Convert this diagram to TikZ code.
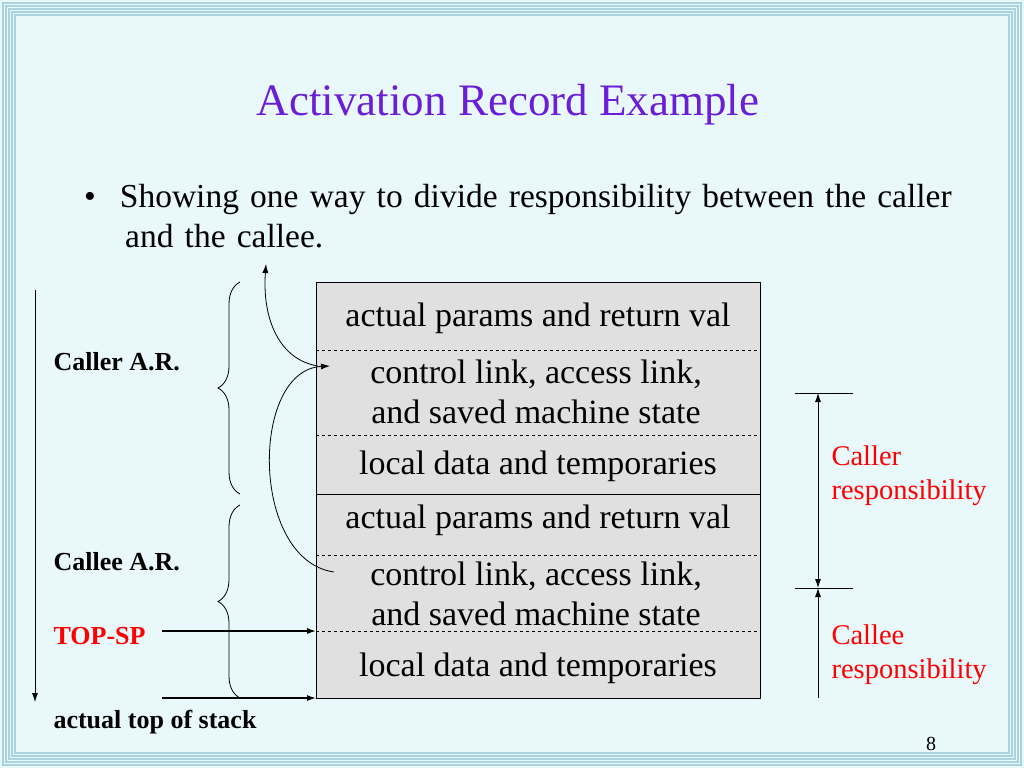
\documentclass[tikz,border=0pt]{standalone}
\usepackage{fontspec}
\setmainfont{Liberation Serif}
\usetikzlibrary{arrows.meta,decorations.pathreplacing}
\definecolor{bgc}{HTML}{E9F8FA}
\definecolor{brd}{HTML}{A9D3E0}
\definecolor{ttl}{HTML}{6A1FD6}
\definecolor{boxc}{HTML}{E0E0E0}
\tikzset{
 cell/.style={font=\fontsize{34}{40}\selectfont,align=center},
 lab/.style={font=\fontsize{26}{30}\selectfont\bfseries,anchor=west},
 rlab/.style={font=\fontsize{28.5}{34}\selectfont,text=red,anchor=west,align=left},
 arr/.style={-{Latex[length=9pt,width=6pt]},line width=1pt},
 brace/.style={decorate,decoration={brace,amplitude=22pt},line width=0.8pt}
}
\begin{document}
\begin{tikzpicture}[x=1pt,y=-1pt]
\useasboundingbox (0,0) rectangle (1024,768);
\fill[bgc] (0,0) rectangle (1024,768);
\foreach \i in {0,3,6,9,12}{\draw[brd,line width=1.3pt] (\i+3,\i+3) rectangle (1021-\i,765-\i);}
\fill[bgc] (22,22) rectangle (1002,746);
\node[font=\fontsize{45}{50}\selectfont,text=ttl] (title) at (508,105) {Activation Record Example};
\node[font=\fontsize{33.5}{40}\selectfont,anchor=north west,align=left,text width=950pt,inner sep=0pt] (bul) at (84,184) {\textbullet\hspace{24pt}Showing one way to divide responsibility between the caller\\\hspace{41pt}and the callee.};
\fill[boxc] (316,282) rectangle (760,698);
\draw[line width=0.8pt] (316,282) rectangle (760,698);
\draw[dashed] (316,350) -- (760,350);
\draw[dashed] (316,435) -- (760,435);
\draw[line width=0.8pt] (316,494) -- (760,494);
\draw[dashed] (316,555) -- (760,555);
\draw[dashed] (316,631) -- (760,631);
\node[cell] (c1) at (538,318) {actual params and return val};
\node[cell] (c2) at (536,392) {control link, access link,\\ and saved machine state};
\node[cell] (c3) at (538,466) {local data and temporaries};
\node[cell] (c4) at (538,520) {actual params and return val};
\node[cell] (c5) at (536,594) {control link, access link,\\ and saved machine state};
\node[cell] (c6) at (538,668) {local data and temporaries};
\coordinate (v1) at (35,290); \coordinate (v2) at (35,702);
\draw[arr,line width=0.8pt] (v1) -- (v2);
\draw[brace] (240,494) -- (240,282);
\draw[brace] (240,698) -- (240,505);
\node[lab] (l1) at (50,362) {Caller A.R.};
\node[lab] (l2) at (50,562) {Callee A.R.};
\node[lab,text=red] (l3) at (50,636) {TOP-SP};
\node[lab] (l4) at (50,722) {actual top of stack};
\coordinate (t1) at (162,631); \coordinate (t2) at (316,631);
\coordinate (s1) at (162,698); \coordinate (s2) at (316,698);
\draw[arr,line width=1.2pt] (t1) -- (t2);
\draw[arr,line width=1.2pt] (s1) -- (s2);
\coordinate (p1) at (318,366); \coordinate (p2) at (266,264);
\draw[arr,line width=0.8pt] (p1) .. controls (280,360) and (262,320) .. (p2);
\coordinate (q1) at (334,572); \coordinate (q2) at (330,366);
\draw[arr,line width=0.8pt] (q1) .. controls (250,560) and (250,370) .. (q2);
\draw (795,393) -- (853,393);
\draw (795,588) -- (853,588);
\coordinate (r1) at (818,393); \coordinate (r2) at (818,588); \coordinate (r3) at (818,698);
\draw[{Latex[length=9pt,width=6pt]}-{Latex[length=9pt,width=6pt]},line width=0.8pt] (r1) -- (r2);
\draw[arr,line width=0.8pt] (r3) -- (r2);
\node[rlab] (k1) at (828,476) {Caller\\responsibility};
\node[rlab] (k2) at (828,655) {Callee\\responsibility};
\node[font=\fontsize{20}{22}\selectfont] (pg) at (931,744) {8};
\end{tikzpicture}
\end{document}
